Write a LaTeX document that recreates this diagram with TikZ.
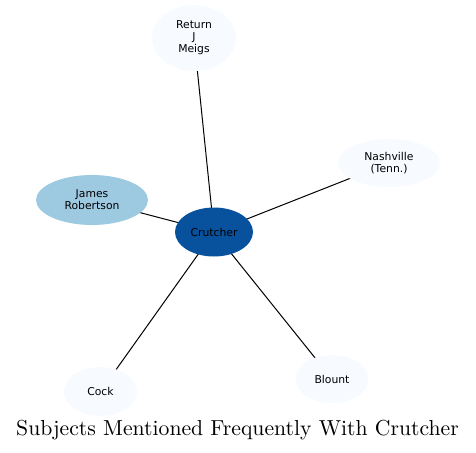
\documentclass[tikz,border=0pt]{standalone}
\usepackage{fontspec}
\newfontfamily\nodefont{DejaVu Sans}
\newfontfamily\titlefont{lmroman10-regular}[Extension=.otf]
\definecolor{lightnode}{HTML}{F7FBFF}
\definecolor{midnode}{HTML}{9ECAE1}
\definecolor{darknode}{HTML}{08519C}
\tikzset{
  subj/.style={ellipse, fill=lightnode, inner sep=0pt, font=\nodefont\fontsize{10.8}{12}\selectfont, align=center},
  edge/.style={draw=black, line width=1pt},
}
\usetikzlibrary{shapes.geometric}
\begin{document}
\begin{tikzpicture}[x=1pt,y=-1pt]
\useasboundingbox (0,0) rectangle (476,452);
\coordinate (cM) at (194,38);
\coordinate (cN) at (389,163);
\coordinate (cJ) at (92,200);
\coordinate (cC) at (214,232);
\coordinate (cK) at (100.5,391.5);
\coordinate (cB) at (332,379);
\draw[edge] (cC) -- (cM);
\draw[edge] (cC) -- (cN);
\draw[edge] (cC) -- (cJ);
\draw[edge] (cC) -- (cK);
\draw[edge] (cC) -- (cB);
\node[subj, minimum width=84pt, minimum height=66pt] (meigs) at (cM) {Return\\J\\Meigs};
\node[subj, minimum width=102pt, minimum height=48pt] (nash) at (cN) {Nashville\\(Tenn.)};
\node[subj, fill=midnode, minimum width=112pt, minimum height=50pt] (james) at (cJ) {James\\Robertson};
\node[subj, fill=darknode, minimum width=78pt, minimum height=49pt] (crutcher) at (cC) {Crutcher};
\node[subj, minimum width=73pt, minimum height=49pt] (cock) at (cK) {Cock};
\node[subj, minimum width=73pt, minimum height=48pt] (blount) at (cB) {Blount};
\node[font=\titlefont\fontsize{21.7}{25}\selectfont] (title) at (237.5,430) {Subjects Mentioned Frequently With Crutcher};
\end{tikzpicture}
\end{document}
